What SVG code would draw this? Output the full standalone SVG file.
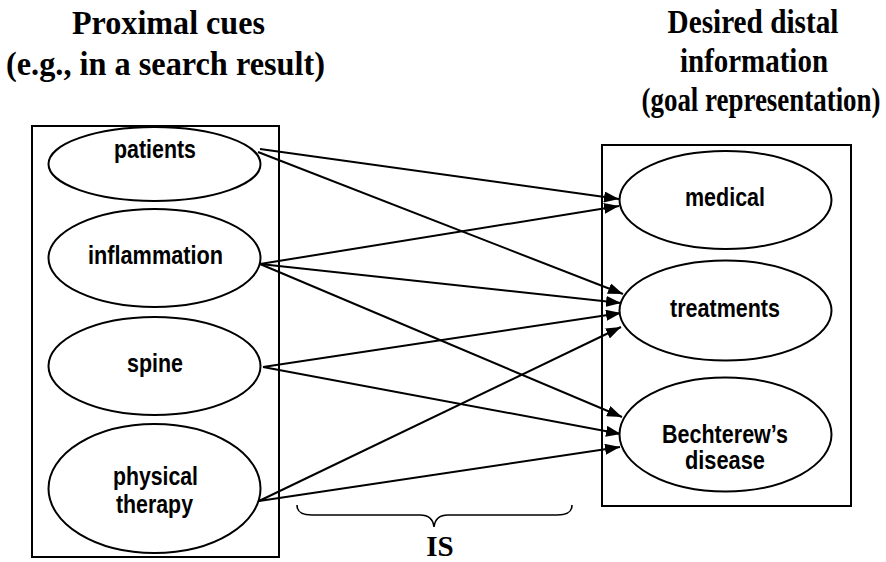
<svg xmlns="http://www.w3.org/2000/svg" width="886" height="562" viewBox="0 0 886 562">
<style>
.title{font-family:"Liberation Serif","Times New Roman",serif;font-weight:bold;font-size:34px;fill:#000;text-anchor:middle}
.lbl{font-family:"Liberation Sans",Arial,sans-serif;font-weight:bold;font-size:25px;fill:#000;text-anchor:middle}
.box{fill:none;stroke:#000;stroke-width:2}
.node{fill:#fff;stroke:#000;stroke-width:2}
.edge{fill:none;stroke:#000;stroke-width:2;marker-end:url(#arr)}
</style>
<defs>
<marker id="arr" viewBox="0 0 15 11" refX="15" refY="5.5" markerWidth="15" markerHeight="11" markerUnits="userSpaceOnUse" orient="auto">
<path d="M0,0 L15,5.5 L0,11 z" fill="#000"/>
</marker>
</defs>
<rect width="886" height="562" fill="#fff"/>
<g id="titles">
<text class="title" x="168.5" y="34" textLength="193" lengthAdjust="spacingAndGlyphs">Proximal cues</text>
<text class="title" x="165.5" y="75" textLength="319" lengthAdjust="spacingAndGlyphs">(e.g., in a search result)</text>
<text class="title" x="753" y="33" textLength="171" lengthAdjust="spacingAndGlyphs">Desired distal</text>
<text class="title" x="754" y="72" textLength="148" lengthAdjust="spacingAndGlyphs">information</text>
<text class="title" x="0" y="0" transform="translate(761,111) scale(0.816,1)" style="font-size:33px">(goal representation)</text>
</g>
<g id="proximal-box"><rect class="box" x="32" y="126" width="247" height="431"/></g>
<g id="distal-box"><rect class="box" x="602" y="145" width="249" height="361"/></g>
<g id="connectors">
<line class="edge" x1="260" y1="149" x2="619" y2="199"/>
<line class="edge" x1="258" y1="152" x2="623" y2="294"/>
<line class="edge" x1="260" y1="264" x2="619" y2="206"/>
<line class="edge" x1="260" y1="264" x2="621" y2="303"/>
<line class="edge" x1="260" y1="264" x2="622" y2="417"/>
<line class="edge" x1="263" y1="367" x2="621" y2="313"/>
<line class="edge" x1="263" y1="367" x2="621" y2="434"/>
<line class="edge" x1="259" y1="501" x2="621" y2="327"/>
<line class="edge" x1="259" y1="501" x2="620" y2="447"/>
</g>
<g id="n-patients"><ellipse class="node" cx="154.5" cy="164" rx="106" ry="37"/><text class="lbl" x="155" y="158" textLength="82" lengthAdjust="spacingAndGlyphs">patients</text></g>
<g id="n-inflammation"><ellipse class="node" cx="154.5" cy="258" rx="106" ry="49"/><text class="lbl" x="155.5" y="264" textLength="135" lengthAdjust="spacingAndGlyphs">inflammation</text></g>
<g id="n-spine"><ellipse class="node" cx="154.5" cy="366" rx="106" ry="49"/><text class="lbl" x="155" y="372" textLength="56" lengthAdjust="spacingAndGlyphs">spine</text></g>
<g id="n-physical-therapy"><ellipse class="node" cx="154.5" cy="488.5" rx="106" ry="64.5"/><text class="lbl" x="155.5" y="485" textLength="85" lengthAdjust="spacingAndGlyphs">physical</text><text class="lbl" x="154.5" y="513" textLength="77" lengthAdjust="spacingAndGlyphs">therapy</text></g>
<g id="n-medical"><ellipse class="node" cx="725.5" cy="200" rx="106" ry="49"/><text class="lbl" x="725" y="206" textLength="80" lengthAdjust="spacingAndGlyphs">medical</text></g>
<g id="n-treatments"><ellipse class="node" cx="725.5" cy="310.5" rx="106" ry="50"/><text class="lbl" x="725" y="317" textLength="110" lengthAdjust="spacingAndGlyphs">treatments</text></g>
<g id="n-bechterew"><ellipse class="node" cx="725.5" cy="434.5" rx="106" ry="57"/><text class="lbl" x="725" y="443" textLength="126" lengthAdjust="spacingAndGlyphs">Bechterew’s</text><text class="lbl" x="725" y="469" textLength="80" lengthAdjust="spacingAndGlyphs">disease</text></g>
<g id="is-brace">
<path d="M297,505 C297,513 303,515 312,515 L420,515 C428,515 433,518 434,527 C435,518 440,515 448,515 L557,515 C566,515 572,513 572,505" fill="none" stroke="#000" stroke-width="1.6"/>
<text class="title" x="440" y="556" style="font-size:29px">IS</text>
</g>
</svg>
